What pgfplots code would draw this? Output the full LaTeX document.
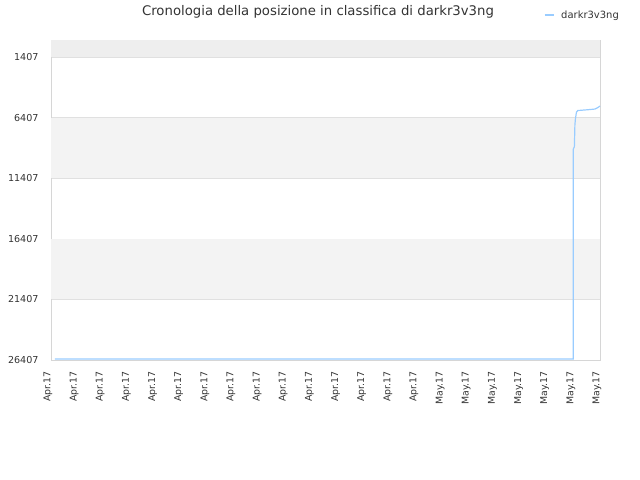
\documentclass[border=0pt]{standalone}
\usepackage{fontspec}
\setmainfont{DejaVu Sans}
\usepackage{pgfplots}
\pgfplotsset{compat=1.18}
\definecolor{txt}{HTML}{333333}
\definecolor{band}{HTML}{F3F3F3}
\definecolor{bandtop}{HTML}{EEEEEE}
\definecolor{gridc}{HTML}{E0E0E0}
\definecolor{framec}{HTML}{D6D6D6}
\definecolor{linec}{HTML}{99CCFF}

\begin{document}
\begin{tikzpicture}
\useasboundingbox (0bp,0bp) rectangle (640bp,480bp);
\node[font=\fontsize{13.3}{15}\selectfont, text=txt] at (318bp,468bp) {Cronologia della posizione in classifica di darkr3v3ng};
\begin{axis}[
  at={(51bp,120bp)}, anchor=south west,
  width=549bp, height=320bp, scale only axis,
  xmin=0, xmax=21,
  ymin=0, ymax=26407,
  y dir=reverse,
  ytick={1407,6407,11407,16407,21407,26407},
  scaled y ticks=false,
  xtick={0,1,...,21},
  xticklabels={Apr.17,Apr.17,Apr.17,Apr.17,Apr.17,Apr.17,Apr.17,Apr.17,Apr.17,Apr.17,Apr.17,Apr.17,Apr.17,Apr.17,Apr.17,May.17,May.17,May.17,May.17,May.17,May.17,May.17},
  x tick label style={xshift=-3bp, yshift=-8bp, rotate=90, anchor=east, font=\fontsize{9.4}{11}\selectfont, text=txt},
  y tick label style={font=\fontsize{9.6}{11}\selectfont, text=txt, xshift=-9bp},
  /pgf/number format/assume math mode=true,
  /pgf/number format/1000 sep={},
  tick style={draw=none},
  ymajorgrids=true,
  grid style={gridc, line width=0.6pt},
  axis line style={framec, line width=0.8pt},
  clip=false,
  legend style={at={(0.968,1.078)}, anchor=center, draw=none, fill=none,
    font=\fontsize{10}{12}\selectfont, text=txt},
  legend image code/.code={\draw[#1, line width=1.2pt] (0bp,0bp) -- (9bp,0bp);},
  legend cell align=left,
]
\fill[bandtop] (axis cs:0,0) rectangle (axis cs:21,1407);
\fill[band] (axis cs:0,6407) rectangle (axis cs:21,11407);
\fill[band] (axis cs:0,16407) rectangle (axis cs:21,21407);
\addplot[linec, line width=1.2pt] coordinates {
  (0.15,26320) (5,26320) (10,26320) (15,26320) (19.98,26320)
  (19.98,9000) (20.02,8800) (20.04,7000) (20.06,6500) (20.1,5950)
  (20.15,5820) (20.5,5760) (20.8,5700) (20.9,5600) (21,5450)
};
\addlegendentry{\hspace{5bp}darkr3v3ng}
\end{axis}
\end{tikzpicture}
\end{document}
